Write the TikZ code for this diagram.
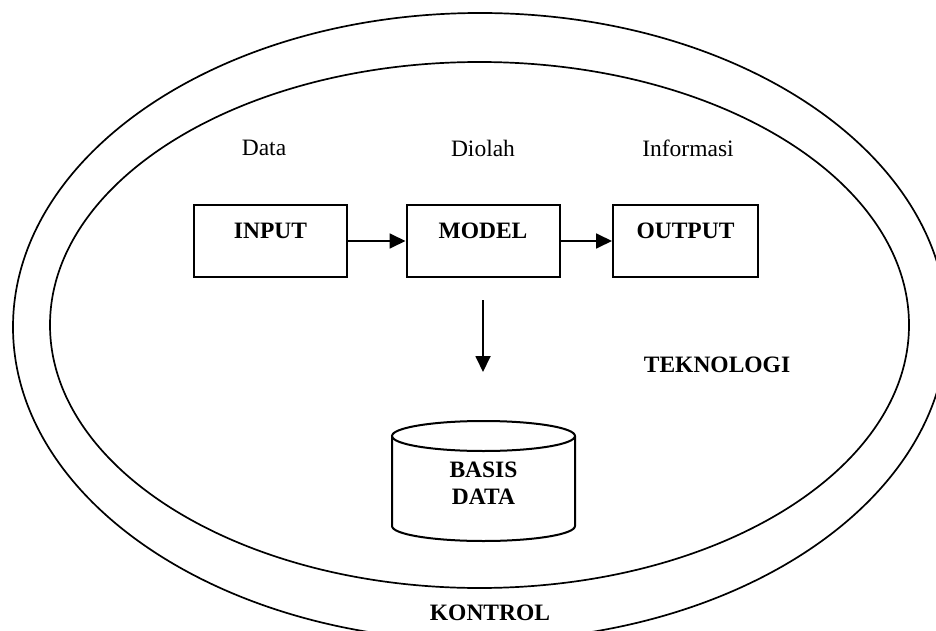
\documentclass[tikz,border=0pt]{standalone}
\usepackage{fontspec}
\setmainfont{Liberation Serif}
\usetikzlibrary{arrows.meta}
\begin{document}
\begin{tikzpicture}[x=1pt,y=-1pt,
  txt/.style={font=\fontsize{23.5}{27}\selectfont, inner sep=0},
  btxt/.style={font=\fontsize{23.5}{27}\selectfont\bfseries, inner sep=0},
  procbox/.style={draw, line width=2pt, minimum width=153pt, minimum height=72pt,
    inner sep=0, text height=16pt, text depth=22pt,
    font=\fontsize{23.5}{27}\selectfont\bfseries},
  flow/.style={line width=1.8pt, -{Triangle[length=16pt,width=15pt]}},
  ring/.style={line width=1.7pt}]
\useasboundingbox (0,0) rectangle (936,631);
\clip (0,0) rectangle (936,631);
% rings
\draw[ring] (480,327) ellipse [x radius=467, y radius=314];
\draw[ring] (479.5,325) ellipse [x radius=429.5, y radius=263];
% labels above
\node[txt] (ldata) at (264,148) {Data};
\node[txt] (ldiolah) at (483,148) {Diolah};
\node[txt] (linfo) at (688,148) {Informasi};
% boxes
\node[procbox] (in) at (270.5,241) {INPUT};
\node[procbox] (mod) at (483,241) {MODEL};
\node[procbox, minimum width=145pt] (out) at (685.5,241) {OUTPUT};
\draw[flow] (in) -- (mod);
\draw[flow] (mod) -- (out);
% down arrow
\coordinate (dtop) at (483,300);
\coordinate (dtip) at (483,372);
\draw[flow] (dtop) -- (dtip);
% database cylinder
\draw[line width=2pt] (392,436) -- (392,526) arc[start angle=180, end angle=0, x radius=91.5, y radius=15] -- (575,436);
\draw[line width=2pt] (483.5,436) ellipse [x radius=91.5, y radius=15];
\node[btxt, align=center] (db) at (483.5,483) {BASIS\\DATA};
% other labels
\node[btxt] (tek) at (717,365) {TEKNOLOGI};
\node[btxt] (kon) at (490,613) {KONTROL};
\end{tikzpicture}
\end{document}
